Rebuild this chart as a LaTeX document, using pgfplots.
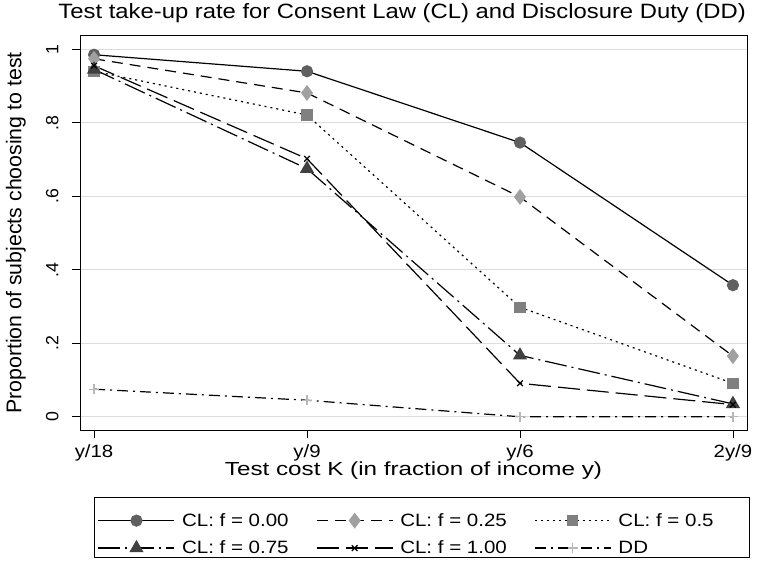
\documentclass[border=0pt]{standalone}
\usepackage{fontspec}
\setmainfont{Liberation Sans}[FakeStretch=1.15]
\newfontfamily\plainfont{Liberation Sans}
\newfontfamily\widefont{Liberation Sans}[FakeStretch=1.28]
\usepackage{pgfplots}
\pgfplotsset{compat=1.18}

\definecolor{gsA}{HTML}{606060}
\definecolor{gsB}{HTML}{A0A0A0}
\definecolor{gsC}{HTML}{808080}
\definecolor{gsD}{HTML}{404040}
\definecolor{gsE}{HTML}{B8B8B8}
\definecolor{gridgray}{HTML}{DCDCDC}

% legend texts: equal-width cells, first row a little taller
\newcommand{\lt}[1]{\makebox[112bp][l]{#1}}
\newcommand{\ltw}[1]{\makebox[128bp][l]{#1}}
\newcommand{\up}{\rule{0pt}{27bp}}

\pgfplotsset{
    legimg/.style={legend image code/.code={\draw[mark repeat=2,mark phase=2,##1] plot coordinates {(0bp,0bp) (38bp,0bp) (76bp,0bp)};}},
    legimgup/.style={legend image code/.code={\draw[mark repeat=2,mark phase=2,##1] plot coordinates {(0bp,-7bp) (38bp,-7bp) (76bp,-7bp)};}},
}

\begin{document}
\begin{tikzpicture}
\useasboundingbox (0,0) rectangle (757bp,569bp);
\begin{axis}[
    at={(80bp,139bp)}, anchor=south west,
    scale only axis,
    width=667bp, height=394bp,
    xmin=0.934, xmax=4.066,
    ymin=-0.036, ymax=1.036,
    xtick={1,2,3,4},
    xticklabels={y/18,y/9,y/6,2y/9},
    ytick={0,0.2,0.4,0.6,0.8,1},
    yticklabels={0,.2,.4,.6,.8,1},
    tick align=outside,
    major tick length=8bp,
    tick style={black, line width=0.8bp},
    xtick pos=bottom, ytick pos=left,
    ymajorgrids,
    grid style={gridgray, line width=1.4bp},
    axis line style={black, line width=1bp},
    /pgf/number format/assume math mode=true,
    xticklabel style={font=\fontsize{17.8}{20}\selectfont, yshift=-3bp},
    yticklabel style={font=\plainfont\fontsize{17.8}{20}\selectfont,
        xshift=-10bp, rotate=90, anchor=south},
    title={Test take-up rate for Consent Law (CL) and Disclosure Duty (DD)},
    title style={at={(rel axis cs:0.483,1)}, anchor=base, yshift=12bp,
        font=\fontsize{20.8}{24}\selectfont},
    xlabel={Test cost K (in fraction of income y)},
    xlabel style={at={(axis description cs:0.5,-0.104)}, anchor=center,
        font=\widefont\fontsize{19}{22}\selectfont},
    ylabel={Proportion of subjects choosing to test},
    ylabel style={at={(axis description cs:-0.096,0.5)}, anchor=center, rotate=0,
        font=\plainfont\fontsize{21.4}{24}\selectfont},
    legend columns=3,
    legend cell align=left,
    legimg,
    legend style={
        at={(rel axis cs:0.513,-0.170)}, anchor=north,
        draw=black, line width=0.8bp,
        font=\fontsize{17.9}{20}\selectfont,
        nodes={inner sep=0pt},
        inner xsep=3bp, inner ysep=2bp,
        row sep=13bp,
        /tikz/every odd column/.append style={column sep=7bp},
        /tikz/every even column/.append style={column sep=22bp},
    },
    every axis plot/.append style={line width=1.2bp},
]
\addplot[black, solid, mark=*, mark size=5.5bp, legimgup,
    mark options={fill=gsA, draw=gsA, solid}]
    coordinates {(1,0.985) (2,0.940) (3,0.746) (4,0.358)};
\addlegendentry{\lt{\up CL: f = 0.00}}
\addplot[black, dash pattern=on 11bp off 7bp, mark=diamond*, mark size=7bp, legimgup,
    mark options={fill=gsB, draw=gsB, solid}]
    coordinates {(1,0.974) (2,0.881) (3,0.598) (4,0.165)};
\addlegendentry{\lt{\up CL: f = 0.25}}
\addplot[black, dash pattern=on 2bp off 4bp, mark=square*, mark size=5bp, legimgup,
    mark options={fill=gsC, draw=gsC, solid}]
    coordinates {(1,0.940) (2,0.821) (3,0.298) (4,0.091)};
\addlegendentry{\ltw{\up CL: f = 0.5}}
\addplot[black, dash pattern=on 22bp off 5bp on 2bp off 5bp, mark=triangle*, mark size=7bp,
    mark options={fill=gsD, draw=gsD, solid}]
    coordinates {(1,0.945) (2,0.675) (3,0.167) (4,0.035)};
\addlegendentry{\lt{CL: f = 0.75}}
\addplot[black, dash pattern=on 22bp off 7bp, mark=x, mark size=4bp,
    mark options={draw=black, solid, line width=1.2bp}]
    coordinates {(1,0.955) (2,0.702) (3,0.091) (4,0.033)};
\addlegendentry{\lt{CL: f = 1.00}}
\addplot[black, dash pattern=on 11bp off 5bp on 2bp off 5bp, mark=+, mark size=5bp,
    mark options={draw=gsE, solid, line width=1.2bp}]
    coordinates {(1,0.075) (2,0.045) (3,0.0) (4,0.0)};
\addlegendentry{\ltw{DD}}
\end{axis}
\end{tikzpicture}
\end{document}
